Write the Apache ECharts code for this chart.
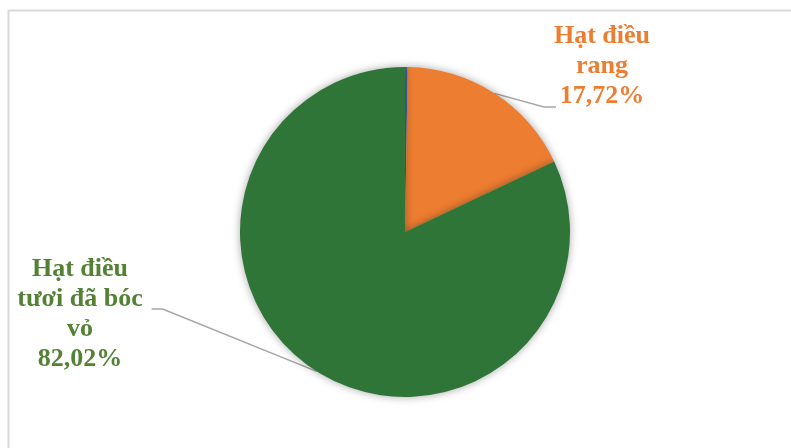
<!DOCTYPE html>
<html>
<head>
<meta charset="utf-8">
<script src="https://cdn.jsdelivr.net/npm/echarts@6/dist/echarts.min.js"></script>
<style>
  html, body { margin: 0; padding: 0; background: #ffffff; }
  #chart { width: 791px; height: 448px; }
</style>
</head>
<body>
<div id="chart"></div>
<script>
// Export structure of cashew products (share of value, %)
const categories = ['Khác', 'Hạt điều rang', 'Hạt điều tươi đã bóc vỏ'];
const shares = [0.26, 17.72, 82.02];
const labelText = ['', 'Hạt điều\nrang', 'Hạt điều\ntươi đã bóc\nvỏ'];
const sliceColors = ['#4472c4', '#ed7d31', '#2e7537'];
const labelColors = ['#4472c4', '#ed7d31', '#548235'];
const labelAnchors = [null, [602, 66], [80, 314]];
const pieCenter = [405, 232];

const chart = echarts.init(document.getElementById('chart'));

const data = categories.map((name, i) => ({
  name: name,
  value: shares[i],
  itemStyle: { color: sliceColors[i] },
  label: { show: i > 0, color: labelColors[i] },
  labelLine: { show: i > 0 }
}));

chart.setOption({
  animation: false,
  backgroundColor: '#ffffff',
  graphic: [{
    type: 'polyline',
    shape: { points: [[8.5, 460], [8.5, 10.5], [800, 10.5]] },
    style: { stroke: '#d9d9d9', lineWidth: 2, fill: null },
    silent: true
  }],
  series: [{
    type: 'pie',
    center: pieCenter,
    radius: 165,
    startAngle: 90,
    clockwise: true,
    avoidLabelOverlap: false,
    itemStyle: {
      shadowBlur: 8,
      shadowColor: 'rgba(0,0,0,0.35)'
    },
    label: {
      position: 'outside',
      fontFamily: '"Liberation Serif", "Times New Roman", serif',
      fontWeight: 'bold',
      fontSize: 26,
      lineHeight: 30,
      align: 'center',
      formatter: p => labelText[p.dataIndex] + '\n' +
        p.value.toFixed(2).replace('.', ',') + '%'
    },
    labelLine: {
      lineStyle: { color: '#a6a6a6', width: 1.5 }
    },
    labelLayout: p => {
      const a = labelAnchors[p.dataIndex];
      if (!a) return {};
      const w = p.labelRect.width;
      const h = p.labelRect.height;
      const start = p.labelLinePoints ? p.labelLinePoints[0] : null;
      const out = { x: a[0], y: a[1], align: 'center', verticalAlign: 'middle' };
      if (start) {
        let end, knee;
        if (a[0] > pieCenter[0]) {
          end = [a[0] - w / 2 + 2, a[1] + h / 2 - 4];
          knee = [end[0] - 12, end[1]];
        } else {
          end = [a[0] + w / 2 + 9, a[1] - 5];
          knee = [end[0] + 11, end[1]];
        }
        out.labelLinePoints = [start, knee, end];
      }
      return out;
    },
    data: data
  }]
});
</script>
</body>
</html>
